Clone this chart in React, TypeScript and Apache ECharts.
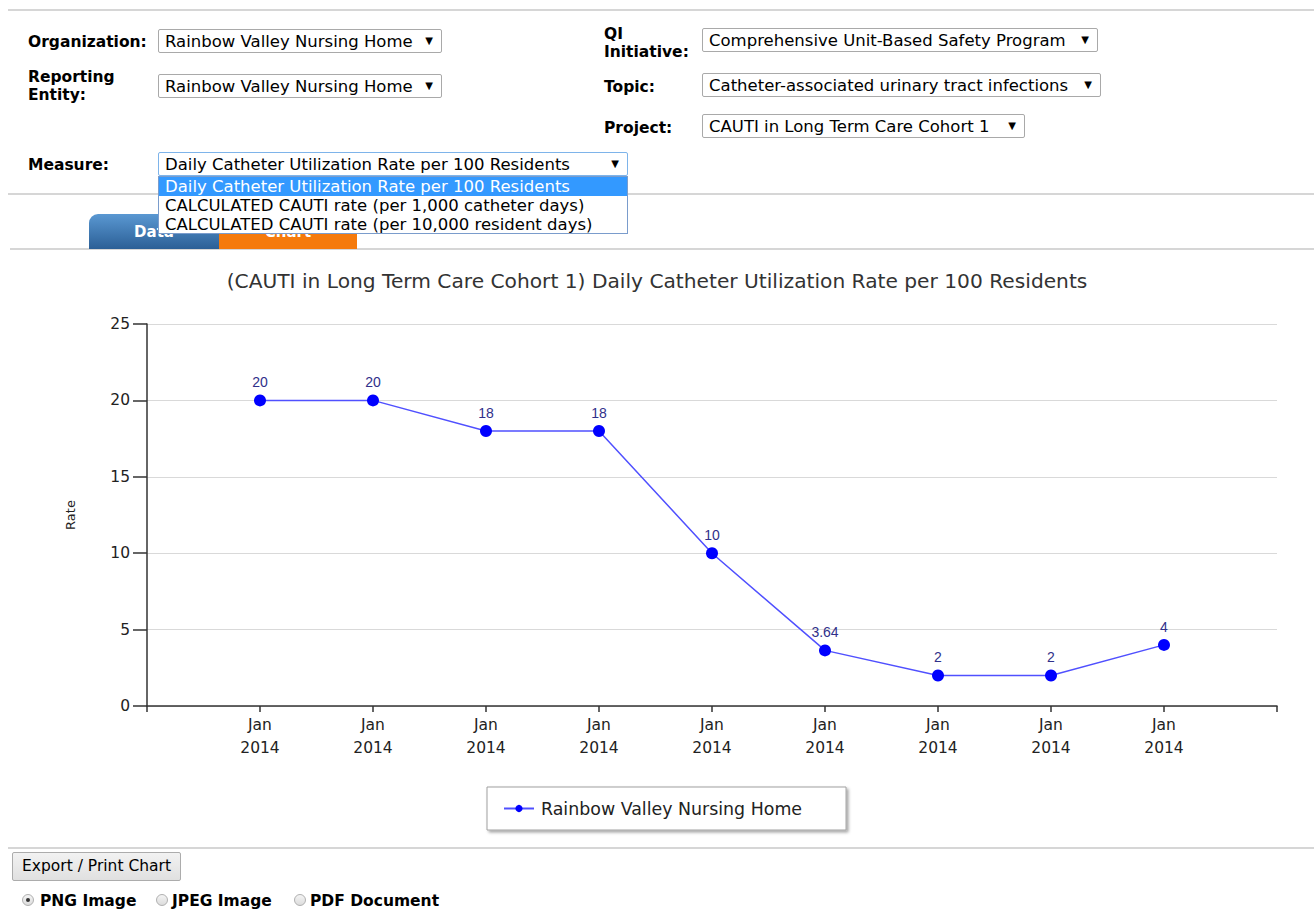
import React, { useEffect, useRef } from "react";
import * as echarts from "echarts";

const chartTitle =
  "(CAUTI in Long Term Care Cohort 1) Daily Catheter Utilization Rate per 100 Residents";
const seriesName = "Rainbow Valley Nursing Home";
const categories = [
  "Jan\n2014",
  "Jan\n2014",
  "Jan\n2014",
  "Jan\n2014",
  "Jan\n2014",
  "Jan\n2014",
  "Jan\n2014",
  "Jan\n2014",
  "Jan\n2014",
];
const rates = [20, 20, 18, 18, 10, 3.64, 2, 2, 4];
const yMin = 0;
const yMax = 25;
const yInterval = 5;
const yAxisName = "Rate";
const measureOptions = [
  "Daily Catheter Utilization Rate per 100 Residents",
  "CALCULATED CAUTI rate (per 1,000 catheter days)",
  "CALCULATED CAUTI rate (per 10,000 resident days)",
];

const UI_FONT = '"DejaVu Sans", Verdana, sans-serif';
const CHART_FONT = '"DejaVu Sans", Verdana, sans-serif';
const SELECT_SIZE = 16.5;

function Select(props: { x: number; y: number; w: number; text: string; focused?: boolean }) {
  const { x, y, w, text, focused } = props;
  return (
    <div
      style={{
        position: "absolute",
        left: x,
        top: y,
        width: w,
        height: 24,
        boxSizing: "border-box",
        border: focused ? "1px solid #7eb4ea" : "1px solid #a9a9a9",
        borderRadius: 2,
        background: "#fff",
        fontFamily: UI_FONT,
        fontSize: SELECT_SIZE,
        color: "#000",
        lineHeight: "23px",
        paddingLeft: 6,
        whiteSpace: "nowrap",
        overflow: "hidden",
      }}
    >
      {text}
      <span style={{ position: "absolute", right: 8, top: 0, fontSize: 10, lineHeight: "22px" }}>▼</span>
    </div>
  );
}

function Label(props: { x: number; y: number; lines: string[] }) {
  return (
    <div
      style={{
        position: "absolute",
        left: props.x,
        top: props.y,
        fontFamily: UI_FONT,
        fontWeight: "bold",
        fontSize: 15.5,
        lineHeight: "17.5px",
        color: "#000",
        whiteSpace: "nowrap",
      }}
    >
      {props.lines.map((l, i) => (
        <div key={i}>{l}</div>
      ))}
    </div>
  );
}

function HLine(props: { y: number; x?: number }) {
  return (
    <div
      style={{
        position: "absolute",
        left: props.x ?? 8,
        right: 0,
        top: props.y,
        height: 2,
        background: "#d6d6d6",
      }}
    />
  );
}

function Radio(props: { x: number; textX: number; label: string; checked?: boolean }) {
  return (
    <div style={{ position: "absolute", left: props.x, top: 892, height: 20, whiteSpace: "nowrap" }}>
      <div
        style={{
          position: "absolute",
          left: 0,
          top: 2,
          width: 12,
          height: 12,
          boxSizing: "border-box",
          borderRadius: "50%",
          border: "1px solid #b0b0b0",
          background: "linear-gradient(#f4f4f4, #dcdcdc)",
        }}
      >
        {props.checked ? (
          <div
            style={{
              position: "absolute",
              left: 3,
              top: 3,
              width: 4,
              height: 4,
              borderRadius: "50%",
              background: "#333",
            }}
          />
        ) : null}
      </div>
      <span
        style={{
          position: "absolute",
          left: props.textX - props.x,
          top: 0,
          fontFamily: UI_FONT,
          fontWeight: "bold",
          fontSize: 15.5,
          lineHeight: "18px",
          color: "#000",
        }}
      >
        {props.label}
      </span>
    </div>
  );
}

function Chart() {
  const ref = useRef<HTMLDivElement | null>(null);
  useEffect(() => {
    if (!ref.current) return;
    const chart = echarts.init(ref.current, null, { renderer: "svg" });
    const n = categories.length;
    chart.setOption({
      animation: false,
      title: {
        text: chartTitle,
        left: "center",
        top: 16,
        textStyle: {
          fontFamily: CHART_FONT,
          fontSize: 20.2,
          fontWeight: "normal",
          color: "#333",
        },
      },
      grid: { left: 147, right: 37, top: 74, bottom: 140 },
      xAxis: {
        type: "value",
        min: 0,
        max: n + 1,
        interval: 1,
        splitLine: { show: false },
        axisLine: { show: true, lineStyle: { color: "#333", width: 1.5 } },
        axisTick: { show: true, length: 6, lineStyle: { color: "#333", width: 1.5 } },
        axisLabel: {
          showMinLabel: true,
          showMaxLabel: true,
          fontFamily: CHART_FONT,
          fontSize: 15.5,
          lineHeight: 23,
          color: "#222",
          margin: 7,
          formatter: (v: number) => (v >= 1 && v <= n ? categories[v - 1] : ""),
        },
      },
      yAxis: {
        type: "value",
        min: yMin,
        max: yMax,
        interval: yInterval,
        name: yAxisName,
        nameLocation: "middle",
        nameGap: 70,
        nameTextStyle: { fontFamily: CHART_FONT, fontSize: 13, color: "#222" },
        axisLine: { show: true, lineStyle: { color: "#333", width: 1.5 } },
        axisTick: { show: true, length: 14, lineStyle: { color: "#333", width: 1.5 } },
        splitLine: { show: true, lineStyle: { color: "#d9d9d9", width: 1 } },
        axisLabel: { fontFamily: CHART_FONT, fontSize: 15.5, color: "#222", margin: 17 },
      },
      legend: {
        left: 487,
        top: 537,
        padding: [13, 44, 13, 16],
        itemWidth: 30,
        itemHeight: 9,
        itemGap: 10,
        borderColor: "#a0a0a0",
        borderWidth: 1,
        backgroundColor: "#fff",
        shadowColor: "rgba(0,0,0,0.35)",
        shadowBlur: 3,
        shadowOffsetX: 2,
        shadowOffsetY: 2,
        textStyle: { fontFamily: UI_FONT, fontSize: 17.4, color: "#222", padding: [0, 0, 0, 2] },
        data: [seriesName],
      },
      series: [
        {
          name: seriesName,
          type: "line",
          data: rates.map((v, i) => [i + 1, v]),
          symbol: "circle",
          symbolSize: 12,
          itemStyle: { color: "#0000ff" },
          lineStyle: { color: "#5050ff", width: 1.5 },
          label: {
            show: true,
            position: "top",
            distance: 5,
            fontFamily: '"Liberation Sans", Arial, sans-serif',
            fontSize: 14,
            color: "#30308a",
            formatter: (p: any) => String(p.value[1]),
          },
        },
      ],
    });
    return () => chart.dispose();
  }, []);
  return (
    <div
      ref={ref}
      style={{ position: "absolute", left: 0, top: 250, width: 1314, height: 596 }}
    />
  );
}

export default function App() {
  return (
    <div
      style={{
        position: "absolute",
        left: 0,
        top: 0,
        width: 1314,
        height: 909,
        overflow: "hidden",
        background: "#fff",
      }}
    >
      <HLine y={9} />
      <Label x={28} y={34} lines={["Organization:"]} />
      <Select x={158} y={29} w={284} text="Rainbow Valley Nursing Home" />
      <Label x={28} y={69} lines={["Reporting", "Entity:"]} />
      <Select x={158} y={74} w={284} text="Rainbow Valley Nursing Home" />
      <Label x={604} y={26} lines={["QI", "Initiative:"]} />
      <Select x={702} y={28} w={396} text="Comprehensive Unit-Based Safety Program" />
      <Label x={604} y={79} lines={["Topic:"]} />
      <Select x={702} y={73} w={399} text="Catheter-associated urinary tract infections" />
      <Label x={604} y={120} lines={["Project:"]} />
      <Select x={702} y={114} w={323} text="CAUTI in Long Term Care Cohort 1" />
      <Label x={28} y={157} lines={["Measure:"]} />
      <HLine y={193} />
      <HLine y={248} x={10} />
      {/* Tabs */}
      <div
        style={{
          position: "absolute",
          left: 89,
          top: 214,
          width: 130,
          height: 35,
          borderTopLeftRadius: 9,
          background: "linear-gradient(#5a98d2, #2b5f96)",
          color: "#fff",
          fontFamily: UI_FONT,
          fontWeight: "bold",
          fontSize: 15,
          textAlign: "center",
          lineHeight: "36px",
        }}
      >
        Data
      </div>
      <div
        style={{
          position: "absolute",
          left: 219,
          top: 214,
          width: 138,
          height: 35,
          background: "#f57a0c",
          color: "#fff",
          fontFamily: UI_FONT,
          fontWeight: "bold",
          fontSize: 15,
          textAlign: "center",
          lineHeight: "36px",
        }}
      >
        Chart
      </div>
      <Select x={158} y={152} w={470} text={measureOptions[0]} focused />
      {/* Open dropdown */}
      <div
        style={{
          position: "absolute",
          left: 158,
          top: 176,
          width: 470,
          height: 58,
          boxSizing: "border-box",
          border: "1px solid #7a9ccc",
          background: "#fff",
          fontFamily: UI_FONT,
          fontSize: SELECT_SIZE,
          lineHeight: "19px",
          whiteSpace: "nowrap",
          overflow: "hidden",
        }}
      >
        {measureOptions.map((o, i) => (
          <div
            key={i}
            style={{
              paddingLeft: 6,
              height: 19,
              background: i === 0 ? "#3399ff" : "#fff",
              color: i === 0 ? "#fff" : "#000",
            }}
          >
            {o}
          </div>
        ))}
      </div>
      <Chart />
      <HLine y={847} />
      <div
        style={{
          position: "absolute",
          left: 12,
          top: 852,
          width: 169,
          height: 29,
          boxSizing: "border-box",
          border: "1px solid #acacac",
          borderRadius: 2,
          background: "linear-gradient(#f2f2f2, #e0e0e0)",
          fontFamily: UI_FONT,
          fontSize: 15.5,
          lineHeight: "27px",
          textAlign: "center",
          color: "#000",
          whiteSpace: "nowrap",
        }}
      >
        Export / Print Chart
      </div>
      <Radio x={22} textX={40} label="PNG Image" checked />
      <Radio x={156} textX={172} label="JPEG Image" />
      <Radio x={294} textX={310} label="PDF Document" />
    </div>
  );
}
